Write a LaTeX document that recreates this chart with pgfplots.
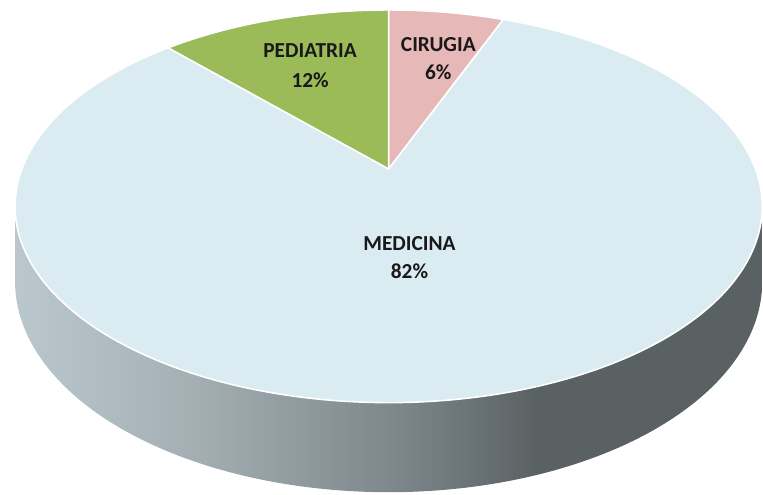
\documentclass[border=0pt]{standalone}
\usepackage{pgfplots}
\pgfplotsset{compat=1.18}
\usepackage{fontspec}
\setmainfont{Carlito}
\definecolor{med}{HTML}{DAEBF1}
\definecolor{ped}{HTML}{9BBB59}
\definecolor{cir}{HTML}{E6B8B7}
\definecolor{sA}{HTML}{BAC8CD}
\definecolor{sB}{HTML}{A3AFB3}
\definecolor{sC}{HTML}{7F898D}
\definecolor{sD}{HTML}{5A6163}
\pgfdeclarehorizontalshading{sideshade}{100bp}{color(0bp)=(sA); color(25bp)=(sA); color(37bp)=(sB); color(50bp)=(sC); color(60bp)=(sD); color(75bp)=(sD); color(100bp)=(sD)}
% data (percent)
\def\pCir{6}
\def\pMed{82}
\def\pPed{12}
\begin{document}
\begin{tikzpicture}
\begin{axis}[
  width=763pt, height=497pt, scale only axis,
  xmin=0, xmax=763, ymin=0, ymax=497, y dir=reverse,
  hide axis, clip=false,
  declare function={
    pk=0.19;
    px(\a)=391+369*cos(\a)/(1+pk*sin(\a));
    py(\a)=170-190.4*sin(\a)/(1+pk*sin(\a));
    pd(\a)=73/(1+pk*sin(\a));
  },
]
\addplot[draw=none] coordinates {(0,0) (763,497)};
% side of the cylinder (front part)
\addplot[shade, shading=sideshade, draw=none, domain=191:507, samples=317, variable=\t]
  ({px(\t<=349 ? \t : 698-\t)},
   {py(\t<=349 ? \t : 698-\t) + (\t>349 ? pd(698-\t) : 0)});
% top face: slices, clockwise from 12 o'clock
\pgfmathsetmacro{\aA}{90}
\pgfmathsetmacro{\aB}{90-3.6*\pCir}
\pgfmathsetmacro{\aC}{\aB-3.6*\pMed}
\pgfmathsetmacro{\aD}{\aC-3.6*\pPed}
\addplot[fill=cir, draw=white, line width=1.6pt, line join=round, domain=\aB:\aA, samples=40, variable=\t]
  ({px(\t)},{py(\t)}) -- (axis cs:391,170) -- cycle;
\addplot[fill=med, draw=white, line width=1.6pt, line join=round, domain=\aC:\aB, samples=300, variable=\t]
  ({px(\t)},{py(\t)}) -- (axis cs:391,170) -- cycle;
\addplot[fill=ped, draw=white, line width=1.6pt, line join=round, domain=\aD+360:\aC+360, samples=60, variable=\t]
  ({px(\t)},{py(\t)}) -- (axis cs:391,170) -- cycle;
% labels
\begin{scope}[every node/.style={anchor=base, font=\bfseries\fontsize{21.5}{26}\selectfont, text=black!90, inner sep=0pt}]
\node at (axis cs:312,58) {PEDIATRIA};
\node at (axis cs:312,88) {12\%};
\node at (axis cs:441,52) {CIRUGIA};
\node at (axis cs:441,80) {6\%};
\node at (axis cs:412,252) {MEDICINA};
\node at (axis cs:412,280) {82\%};
\end{scope}
\end{axis}
\end{tikzpicture}
\end{document}
